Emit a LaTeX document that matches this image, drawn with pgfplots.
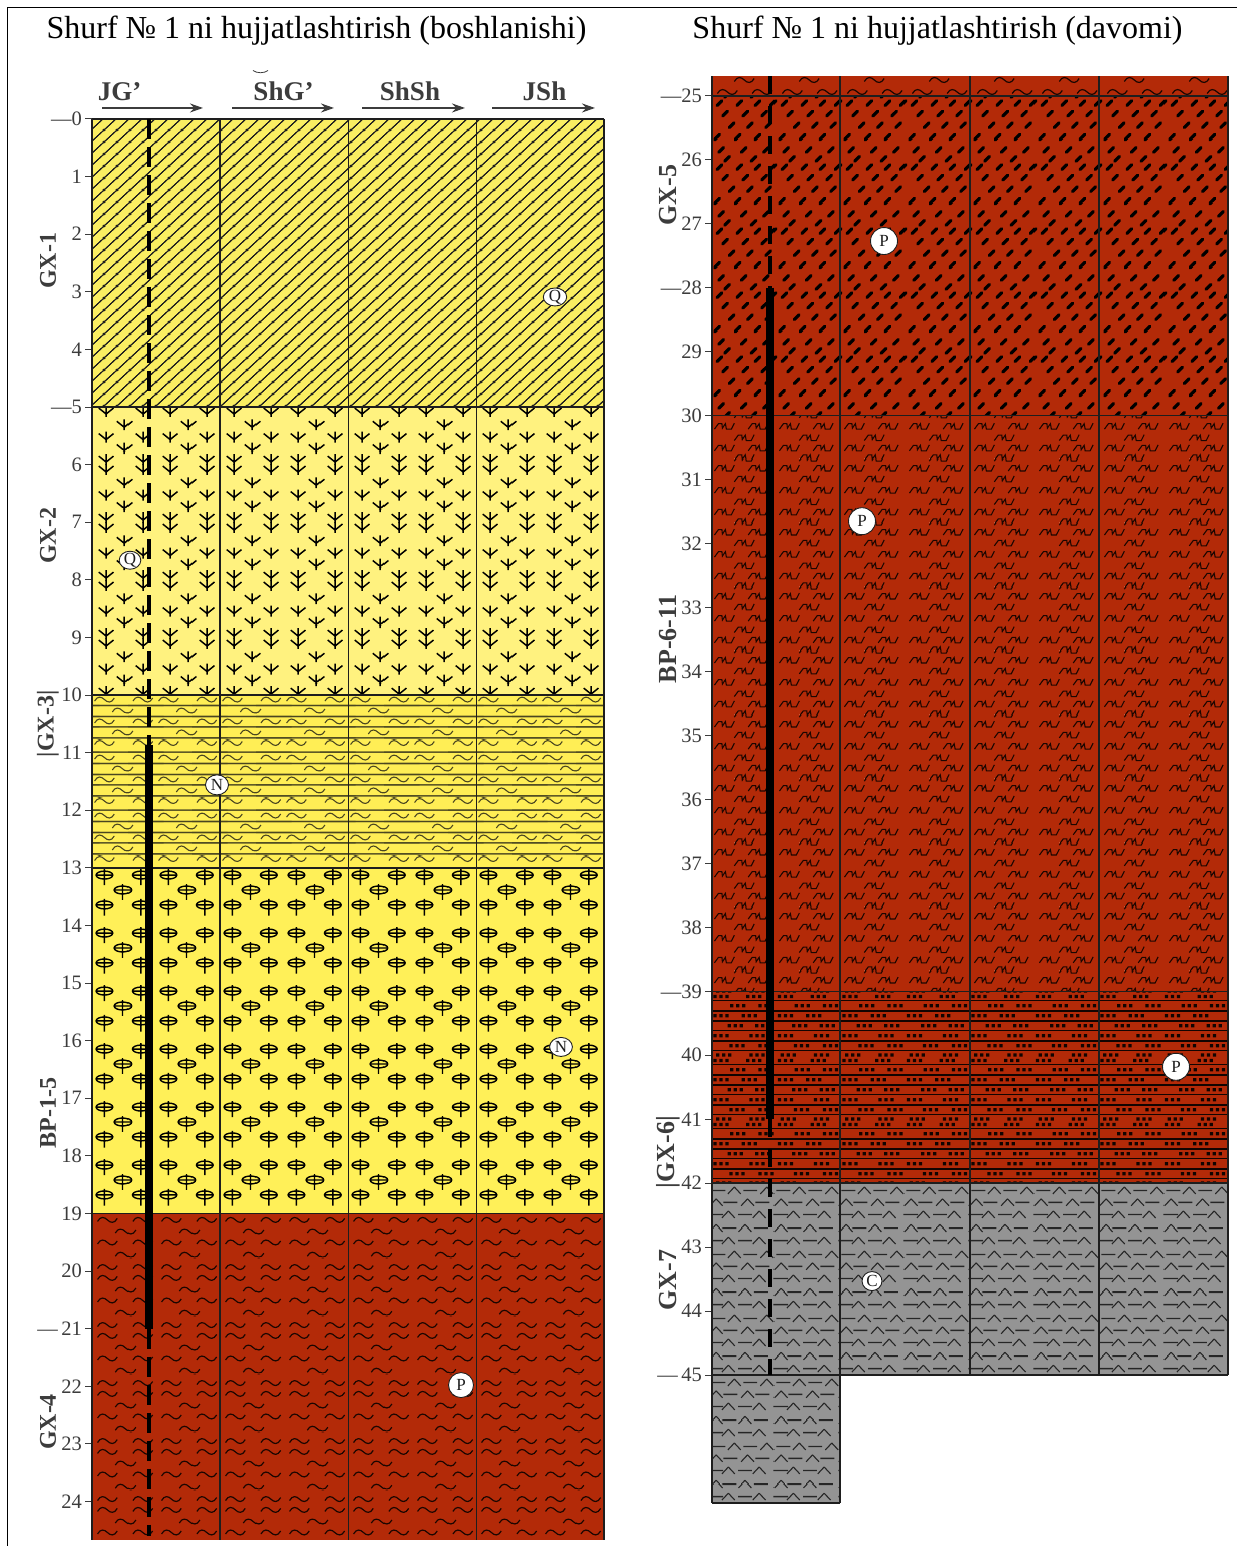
\documentclass[border=0pt]{standalone}
\usepackage{fontspec}
\setmainfont{Liberation Serif}
\usepackage{pgfplots}
\pgfplotsset{compat=1.18}
\usetikzlibrary{patterns,arrows.meta}
\definecolor{yA}{HTML}{FAEE62}
\definecolor{yB}{HTML}{FFF27F}
\definecolor{yC}{HTML}{FFEE55}
\definecolor{yD}{HTML}{FFF058}
\definecolor{redb}{HTML}{B32A08}
\definecolor{greyb}{HTML}{949494}
\definecolor{ink}{HTML}{1E1E1E}
\definecolor{txt}{HTML}{3C3C3C}
\definecolor{olive}{HTML}{4A4620}
% ---- tile helpers: positions are given in picture pixels, y from the top
\newcommand\place[3]{%
  \pgfmathsetmacro\tx{mod(#1,\TW)}%
  \pgfmathsetmacro\ty{mod(1546-#2,\TH)}%
  \foreach \i in {-1,0,1}{\foreach \j in {-1,0,1}{%
    \pgfmathsetmacro\qx{\tx+\i*\TW}%
    \pgfmathsetmacro\qy{\ty+\j*\TH}%
    \begin{pgfscope}\pgftransformshift{\pgfqpoint{\qx pt}{\qy pt}}#3\end{pgfscope}%
  }}}
\newcommand\Seg[4]{\pgfpathmoveto{\pgfpoint{#1pt}{#2pt}}\pgfpathlineto{\pgfpoint{#3pt}{#4pt}}}
\newcommand\symwave{\pgfpathmoveto{\pgfpoint{-10pt}{-1.5pt}}\pgfpathcurveto{\pgfpoint{-7pt}{4pt}}{\pgfpoint{-3pt}{3pt}}{\pgfpoint{0pt}{0pt}}\pgfpathcurveto{\pgfpoint{3pt}{-3pt}}{\pgfpoint{7pt}{-4pt}}{\pgfpoint{10pt}{1.5pt}}\pgfusepath{stroke}}
\newcommand\symhl{\Seg{-100}{0}{100}{0}\pgfusepath{stroke}}
\newcommand\symarrow{\pgfsetlinewidth{1.5pt}\Seg{0}{5}{0}{-6}\Seg{-7.5}{3}{0}{-3}\Seg{0}{-3}{7.5}{3}\pgfusepath{stroke}}
\newcommand\symcross{\pgfsetlinewidth{1.4pt}\pgfpathellipse{\pgfpoint{0pt}{1pt}}{\pgfpoint{8.5pt}{0pt}}{\pgfpoint{0pt}{4pt}}\Seg{-8.5}{1}{8.5}{1}\Seg{0}{7}{0}{-9}\pgfusepath{stroke}}
\newcommand\symdash{\pgfsetlinewidth{3.2pt}\pgfsetroundcap\Seg{-2.4}{-2.4}{2.4}{2.4}\pgfusepath{stroke}}
\newcommand\symthree{\pgfsetlinewidth{1.1pt}\pgfpathmoveto{\pgfpoint{-10pt}{-3pt}}\pgfpathlineto{\pgfpoint{-6pt}{2.5pt}}\pgfpathlineto{\pgfpoint{-2.5pt}{2.5pt}}\pgfpathlineto{\pgfpoint{-2pt}{-2pt}}\pgfpathlineto{\pgfpoint{1pt}{2.5pt}}\pgfpathlineto{\pgfpoint{2pt}{-3pt}}\pgfpathlineto{\pgfpoint{7pt}{-3pt}}\pgfpathlineto{\pgfpoint{10pt}{3pt}}\pgfusepath{stroke}}
\newcommand\symdots{\pgfpathrectangle{\pgfpoint{-1.6pt}{-1.6pt}}{\pgfpoint{3.2pt}{3.2pt}}\pgfpathrectangle{\pgfpoint{4.4pt}{-1.6pt}}{\pgfpoint{3.2pt}{3.2pt}}\pgfpathrectangle{\pgfpoint{10.4pt}{-1.6pt}}{\pgfpoint{3.2pt}{3.2pt}}\pgfusepath{fill}}
\newcommand\symcaret{\pgfsetlinewidth{1.1pt}\Seg{-6.5}{-3.5}{0}{3.5}\Seg{0}{3.5}{6.5}{-3.5}\pgfusepath{stroke}}
\newcommand\symdsh{\pgfsetlinewidth{1.4pt}\Seg{-7}{0}{7}{0}\pgfusepath{stroke}}
% #1 name, #2 width, #3 height, #4 lower edge of the tile, #5 upper edge, #6 drawing
\newcommand\DeclTile[6]{\pgfdeclarepatternformonly{#1}{\pgfqpoint{0pt}{#4pt}}{\pgfqpoint{#2pt}{#5pt}}{\pgfqpoint{#2pt}{#3pt}}{\def\TW{#2}\def\TH{#3}#6}}
% ---- lithology tiles
\DeclTile{lithatch}{13}{12}{0}{12}{\pgfsetlinewidth{0.9pt}\place{0}{1546}{\Seg{-13}{-12}{26}{24}\pgfusepath{stroke}}}
\DeclTile{litarrows}{64}{57.6}{0}{57.6}{%
  \place{106.7}{460}{\symarrow}\place{143.3}{460}{\symarrow}
  \place{106.7}{470}{\symarrow}\place{143.3}{470}{\symarrow}
  \place{125}{483.3}{\symarrow}
  \place{106.7}{495.7}{\symarrow}\place{143.3}{495.7}{\symarrow}
  \place{125}{506.7}{\symarrow}}
\DeclTile{litywave}{64}{57.6}{0}{57.6}{\pgfsetlinewidth{1.1pt}%
  \place{105}{700}{\symwave}\place{143}{700}{\symwave}
  \place{123}{711}{\symwave}
  \place{105}{722}{\symwave}\place{143}{722}{\symwave}
  \place{123}{733}{\symwave}
  \place{105}{743}{\symwave}\place{143}{743}{\symwave}
  \place{0}{694.5}{\symhl}\place{0}{706}{\symhl}\place{0}{717}{\symhl}\place{0}{727.5}{\symhl}\place{0}{738.5}{\symhl}}
\DeclTile{litcross}{64}{57.6}{0}{57.6}{%
  \place{105}{878.3}{\symcross}\place{141}{878.3}{\symcross}
  \place{123.3}{893.3}{\symcross}
  \place{105}{908.3}{\symcross}\place{141}{908.3}{\symcross}}
\DeclTile{litrwave}{64}{57.6}{0}{57.6}{\pgfsetlinewidth{1.2pt}%
  \place{108}{1220.7}{\symwave}\place{143}{1220.7}{\symwave}
  \place{126}{1232.4}{\symwave}
  \place{108}{1243.4}{\symwave}\place{143}{1243.4}{\symwave}
  \place{126}{1255.7}{\symwave}
  \place{108}{1267.4}{\symwave}\place{143}{1267.4}{\symwave}}
\DeclTile{litrtop}{64.5}{64}{0}{64}{\pgfsetlinewidth{1.2pt}%
  \place{728}{92}{\symwave}\place{763}{92}{\symwave}\place{745}{80}{\symwave}}
\DeclTile{litdashes}{64.5}{64}{0}{64}{%
  \place{709}{102.7}{\symdash}\place{720}{102.7}{\symdash}\place{740}{102.7}{\symdash}\place{758.3}{102.7}{\symdash}
  \place{725.7}{113.3}{\symdash}\place{746}{113.3}{\symdash}\place{765}{113.3}{\symdash}
  \place{732.3}{125}{\symdash}\place{750.7}{125}{\symdash}\place{769}{125}{\symdash}
  \place{717.7}{136.7}{\symdash}\place{738.3}{136.7}{\symdash}\place{758.3}{136.7}{\symdash}
  \place{721.7}{149.3}{\symdash}\place{744.3}{149.3}{\symdash}\place{766.7}{149.3}{\symdash}
  \place{727.7}{158.3}{\symdash}\place{754.3}{158.3}{\symdash}}
\DeclTile{litthree}{64.5}{64}{0}{64}{%
  \place{725}{425.7}{\symthree}\place{759}{425.7}{\symthree}
  \place{745}{437.3}{\symthree}
  \place{725}{447.7}{\symthree}\place{759}{447.7}{\symthree}
  \place{745}{457.3}{\symthree}
  \place{725}{467.3}{\symthree}\place{759}{467.3}{\symthree}
  \place{745}{478.3}{\symthree}}
\DeclTile{litdots}{64.5}{64}{5}{69}{%
  \place{731.7}{1005.7}{\symdots}\place{760}{1005.7}{\symdots}
  \place{715}{1015.7}{\symdots}\place{743.3}{1015.7}{\symdots}
  \place{729.3}{1025.7}{\symdots}\place{756.7}{1025.7}{\symdots}
  \place{715}{1035.7}{\symdots}\place{751}{1035.7}{\symdots}
  \place{731}{1045.7}{\symdots}\place{760}{1045.7}{\symdots}
  \place{717.7}{1055}{\symdots}\place{751}{1055}{\symdots}
  \place{715}{1060.5}{\symdots}\place{747.7}{1060.5}{\symdots}
  \pgfsetlinewidth{1.2pt}%
  \place{0}{1000.7}{\symhl}\place{0}{1011}{\symhl}\place{0}{1021}{\symhl}\place{0}{1030.7}{\symhl}\place{0}{1041}{\symhl}\place{0}{1050.7}{\symhl}}
\DeclTile{litgrey}{64.5}{64}{0}{64}{%
  \place{735}{1189}{\symcaret}\place{767.7}{1189}{\symcaret}\place{719}{1189}{\symdsh}\place{751}{1189}{\symdsh}
  \place{716.7}{1201}{\symcaret}\place{748.3}{1201}{\symcaret}\place{731}{1201}{\symdsh}\place{763.3}{1201}{\symdsh}
  \place{729}{1213.3}{\symcaret}\place{760}{1213.3}{\symcaret}\place{716.7}{1213.3}{\symdsh}\place{745.7}{1213.3}{\symdsh}
  \place{716.7}{1226.7}{\symcaret}\place{745.7}{1226.7}{\symcaret}\place{730}{1226.7}{\symdsh}\place{761.7}{1226.7}{\symdsh}
  \place{729}{1239}{\symcaret}\place{760}{1239}{\symcaret}\place{716.7}{1239}{\symdsh}\place{745.7}{1239}{\symdsh}}
\pgfplotsset{litho/.style={draw=none,no marks},
  frameln/.style={draw=ink,line width=1.5pt,no marks},
  bold frame/.style={draw=ink,line width=2pt,no marks},
  hole solid/.style={draw=black,line width=8pt,no marks},
  panel/.style={scale only axis,clip=false,y dir=reverse,axis x line=none,axis y line*=left,
    y axis line style={draw=none},xtick=\empty,major tick length=14pt,tick align=center,
    ytick style={draw=txt,line width=1pt},
    yticklabel style={font=\fontsize{20.5}{20.5}\selectfont,text=txt,inner sep=0pt,anchor=east,xshift=-3pt}},
  circ/.style 2 args={only marks,mark=*,mark size=#1,mark options={fill=white,draw=ink,line width=0.9pt,xscale=#2}},
  lbl/.style={nodes near coords={#1},nodes near coords style={anchor=center,text=ink,inner sep=0pt,font=\fontsize{17}{17}\selectfont}}}
\newcommand\lab[4]{\node[rotate=90,text=txt,inner sep=0pt,font=\fontsize{#4}{#4}\selectfont\bfseries] at (#1,{1546-#2}) {#3};}
\newcommand\head[4]{\node[text=txt,inner sep=0pt,anchor=base,font=\fontsize{27}{27}\selectfont\bfseries] at (#1,1445) {#2};
  \draw[draw=txt,line width=1.2pt,-{Stealth[length=13pt,width=9pt]}] (#3,1438) -- (#4,1438);}
\begin{document}
\begin{tikzpicture}[x=1pt,y=1pt]
\path[use as bounding box] (0,0) rectangle (1237,1546);
\fill[white] (0,0) rectangle (1237,1546);
\draw[black,line width=1pt] (7.5,0) -- (7.5,1538) -- (1237,1538);
\node[anchor=base,inner sep=0pt,font=\fontsize{32}{32}\selectfont] at (316.5,1507) {Shurf № 1 ni hujjatlashtirish (boshlanishi)};
\node[anchor=base,inner sep=0pt,font=\fontsize{32}{32}\selectfont] at (937.5,1507) {Shurf № 1 ni hujjatlashtirish (davomi)};
\draw[txt,line width=0.8pt] (253,1475.5) .. controls (257,1472.5) and (264,1472.5) .. (268,1475.5);
\head{119.5}{JG’}{102}{203}
\head{283.5}{ShG’}{232}{334}
\head{410}{ShSh}{362}{465}
\head{544.5}{JSh}{492}{595}
\lab{48}{261}{GX-1}{24}
\lab{48}{536}{GX-2}{24}
\lab{48}{724}{|GX-3|}{24}
\lab{48}{1113}{BP-1-5}{24}
\lab{48}{1422}{GX-4}{24}
\lab{668}{195}{GX-5}{26}
\lab{668}{639}{BP-6-11}{26}
\lab{668}{1152}{|GX-6|}{26}
\lab{668}{1280}{GX-7}{26}
% ------------- left column
\begin{axis}[panel,at={(92pt,6pt)},anchor=south west,width=512pt,height=1421pt,
  xmin=0,xmax=512,ymin=0,ymax=24.67,
  ytick={0,1,...,24},
  yticklabels={---0,1,2,3,4,---5,6,7,8,9,10,11,12,13,14,15,16,17,18,19,20,---\,21,22,23,24}]
\addplot[litho,preaction={fill=yA},pattern=lithatch,pattern color=ink] coordinates {(0,0)(512,0)(512,5)(0,5)} -- cycle;
\addplot[litho,preaction={fill=yB},pattern=litarrows,pattern color=black] coordinates {(0,5)(512,5)(512,10)(0,10)} -- cycle;
\addplot[litho,preaction={fill=yC},pattern=litywave,pattern color=olive] coordinates {(0,10)(512,10)(512,13)(0,13)} -- cycle;
\addplot[litho,preaction={fill=yD},pattern=litcross,pattern color=black] coordinates {(0,13)(512,13)(512,19)(0,19)} -- cycle;
\addplot[litho,preaction={fill=redb},pattern=litrwave,pattern color=black!85!redb] coordinates {(0,19)(512,19)(512,24.67)(0,24.67)} -- cycle;
\addplot[frameln] coordinates {(128,0)(128,24.67)};
\addplot[frameln] coordinates {(256.5,0)(256.5,24.67)};
\addplot[frameln] coordinates {(384.5,0)(384.5,24.67)};
\addplot[frameln] coordinates {(512,0)(512,24.67)};
\addplot[bold frame] coordinates {(0,0)(0,24.67)};
\addplot[bold frame] coordinates {(0,0)(512,0)};
\addplot[frameln] coordinates {(0,5)(512,5)};
\addplot[frameln] coordinates {(0,10)(512,10)};
\addplot[frameln] coordinates {(0,13)(512,13)};
\addplot[frameln] coordinates {(0,19)(512,19)};
\addplot[draw=black,line width=4.5pt,dash pattern=on 20pt off 8pt,no marks] coordinates {(57,0)(57,10.87)};
\addplot[hole solid] coordinates {(57,10.87)(57,21)};
\addplot[draw=black,line width=4.5pt,dash pattern=on 20pt off 8pt,no marks] coordinates {(57,21)(57,24.6)};
\addplot[circ={9}{1.3},lbl=Q] coordinates {(463,3.09)};
\addplot[circ={9}{1.2},lbl=Q] coordinates {(38,7.66)};
\addplot[circ={10}{1.15},lbl=N] coordinates {(125,11.56)};
\addplot[circ={9.5}{1.2},lbl=N] coordinates {(469,16.11)};
\addplot[circ={12.5}{1},lbl=P] coordinates {(369,21.98)};
\end{axis}
% ------------- right column
\begin{axis}[panel,at={(712pt,43pt)},anchor=south west,width=516pt,height=1427pt,
  xmin=0,xmax=516,ymin=24.69,ymax=47,
  ytick={25,26,...,45},
  yticklabels={---25,26,27,---28,29,30,31,32,33,34,35,36,37,38,---39,40,41,42,43,44,---\,45}]
\addplot[litho,preaction={fill=redb},pattern=litrtop,pattern color=black!85!redb] coordinates {(0,24.69)(516,24.69)(516,25)(0,25)} -- cycle;
\addplot[litho,preaction={fill=redb},pattern=litdashes,pattern color=black] coordinates {(0,25)(516,25)(516,30)(0,30)} -- cycle;
\addplot[litho,preaction={fill=redb},pattern=litthree,pattern color=black!85!redb] coordinates {(0,30)(516,30)(516,39)(0,39)} -- cycle;
\addplot[litho,preaction={fill=redb},pattern=litdots,pattern color=black!90!redb] coordinates {(0,39)(516,39)(516,42)(0,42)} -- cycle;
\addplot[litho,preaction={fill=greyb},pattern=litgrey,pattern color=black!85] coordinates {(0,42)(516,42)(516,45)(128,45)(128,47)(0,47)} -- cycle;
\addplot[frameln] coordinates {(128,24.69)(128,47)};
\addplot[frameln] coordinates {(258,24.69)(258,45)};
\addplot[frameln] coordinates {(387,24.69)(387,45)};
\addplot[frameln] coordinates {(516,24.69)(516,45)};
\addplot[bold frame] coordinates {(0,24.69)(0,47)};
\addplot[frameln] coordinates {(0,25)(516,25)};
\addplot[frameln] coordinates {(0,30)(516,30)};
\addplot[frameln] coordinates {(0,39)(516,39)};
\addplot[frameln] coordinates {(0,42)(516,42)};
\addplot[frameln] coordinates {(0,45)(516,45)};
\addplot[frameln] coordinates {(0,47)(128,47)};
\addplot[draw=black,line width=4pt,dash pattern=on 18pt off 12pt,no marks] coordinates {(58,24.69)(58,28)};
\addplot[hole solid] coordinates {(58,28)(58,41)};
\addplot[draw=black,line width=3.5pt,dash pattern=on 18pt off 12pt,no marks] coordinates {(58,41)(58,45)};
\addplot[circ={13.5}{1},lbl=P] coordinates {(172,27.27)};
\addplot[circ={13.5}{1},lbl=P] coordinates {(150,31.65)};
\addplot[circ={13.5}{1},lbl=P] coordinates {(464,40.18)};
\addplot[circ={9.5}{1.05},lbl=C] coordinates {(160,43.53)};
\end{axis}
\end{tikzpicture}
\end{document}
